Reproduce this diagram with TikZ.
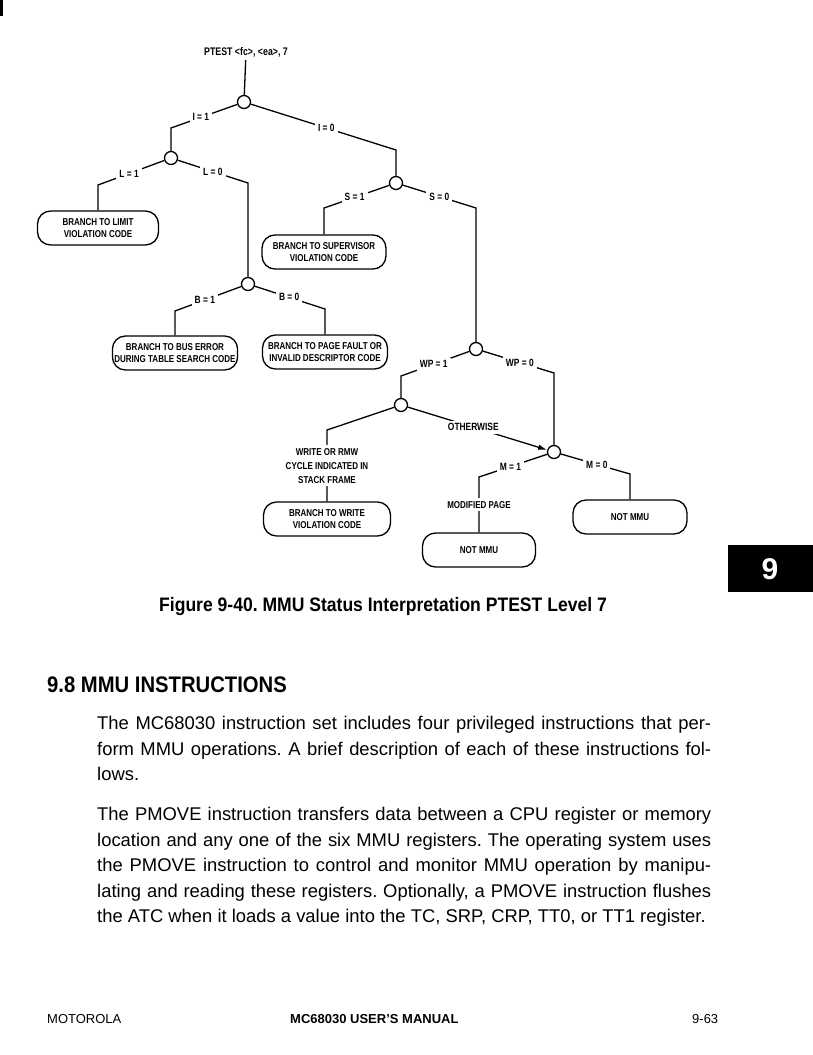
\documentclass[tikz,border=0pt]{standalone}
\usepackage{fontspec}
\setmainfont{Liberation Sans}
\newfontfamily\cnd[FakeStretch=0.8]{Liberation Sans}
\newfontfamily\capf[FakeStretch=0.9]{Liberation Sans}
\usetikzlibrary{arrows.meta}
\frenchspacing
\tikzset{
  dec/.style={circle,draw,line width=1.3pt,minimum size=13pt,inner sep=0pt,fill=white},
  lab/.style={fill=white,inner sep=3pt,font=\cnd\bfseries\fontsize{10.5}{12}\selectfont},
  term/.style={draw,line width=1.3pt,rounded corners=13pt,minimum height=34pt,align=center,inner sep=2pt,font=\cnd\bfseries\fontsize{10}{11.5}\selectfont},
  edge/.style={line width=1.3pt},
  body/.style={anchor=base west,inner sep=0pt,font=\fontsize{18.4}{20}\selectfont},
}
\begin{document}
\begin{tikzpicture}[x=1pt,y=-1pt]
\useasboundingbox (0,0) rectangle (813,1055);
\fill (0,0) rectangle (2.5,16);

% decision points
\node[lab,fill=none,font=\cnd\bfseries\fontsize{11}{12}\selectfont] (ptest) at (246,52) {PTEST \textless fc\textgreater, \textless ea\textgreater, 7};
\node[dec] (root) at (244,102) {};
\node[dec] (cL) at (171,158) {};
\node[dec] (cS) at (396,183) {};
\node[dec] (cB) at (248,284) {};
\node[dec] (cWP) at (476,349) {};
\node[dec] (cW) at (401,405) {};
\node[dec] (cM) at (554,452) {};

% terminals
\node[term,minimum width=121pt] (tLim) at (98,228) {BRANCH TO LIMIT\\VIOLATION CODE};
\node[term,minimum width=124pt] (tSup) at (324,252) {BRANCH TO SUPERVISOR\\VIOLATION CODE};
\node[term,minimum width=124pt] (tBus) at (175,353) {BRANCH TO BUS ERROR\\DURING TABLE SEARCH CODE};
\node[term,minimum width=125pt] (tPF) at (325,352) {BRANCH TO PAGE FAULT OR\\INVALID DESCRIPTOR CODE};
\node[term,minimum width=127pt] (tWr) at (327,519) {BRANCH TO WRITE\\VIOLATION CODE};
\node[term,minimum width=113pt] (tN1) at (479,550) {NOT MMU};
\node[term,minimum width=114pt] (tN2) at (630,517) {NOT MMU};

% corners
\coordinate (kI1) at (171,128);
\coordinate (kI0) at (396,150);
\coordinate (kL1) at (98,185);
\coordinate (kL0) at (248,183);
\coordinate (kS1) at (324,208);
\coordinate (kS0) at (476,208);
\coordinate (kB1) at (175,311);
\coordinate (kB0) at (325,309);
\coordinate (kWP1) at (401,376);
\coordinate (kWP0) at (554,373);
\coordinate (kW) at (327,430);
\coordinate (kM1) at (479,477);
\coordinate (kM0) at (630,474);

% connectors
\draw[edge] (ptest) -- (root);
\draw[edge] (root) -- node[lab,pos=0.55]{I = 1} (kI1) -- (cL);
\draw[edge] (root) -- node[lab,pos=0.52]{I = 0} (kI0) -- (cS);
\draw[edge] (cL) -- node[lab,pos=0.53]{L = 1} (kL1) -- (tLim);
\draw[edge] (cL) -- node[lab,pos=0.5]{L = 0} (kL0) -- (cB);
\draw[edge] (cS) -- node[lab,pos=0.53]{S = 1} (kS1) -- (tSup);
\draw[edge] (cS) -- node[lab,pos=0.5]{S = 0} (kS0) -- (cWP);
\draw[edge] (cB) -- node[lab,pos=0.55]{B = 1} (kB1) -- (tBus);
\draw[edge] (cB) -- node[lab,pos=0.49]{B = 0} (kB0) -- (tPF);
\draw[edge] (cWP) -- node[lab,pos=0.52]{WP = 1} (kWP1) -- (cW);
\draw[edge] (cWP) -- node[lab,pos=0.52]{WP = 0} (kWP0) -- (cM);
\draw[edge] (cW) -- (kW) -- node[lab,align=center,pos=0.5,font=\cnd\bfseries\fontsize{10}{14}\selectfont]{WRITE OR RMW\\CYCLE INDICATED IN\\STACK FRAME} (tWr);
\draw[edge,-{Latex[length=9pt,width=5.5pt]}] (cW) -- node[lab,pos=0.47]{OTHERWISE} (cM);
\draw[edge] (cM) -- node[lab,pos=0.54]{M = 1} (kM1) -- node[lab,pos=0.5,font=\cnd\bfseries\fontsize{10}{12}\selectfont]{MODIFIED PAGE} (tN1);
\draw[edge] (cM) -- node[lab,pos=0.52]{M = 0} (kM0) -- (tN2);

% tab
\fill (728,545) rectangle (813,592);
\node[white,font=\bfseries\fontsize{30}{30}\selectfont] at (770,569) {9};

% caption
\node[font=\capf\bfseries\fontsize{19.5}{22}\selectfont,anchor=base] at (383,611) {Figure 9-40. MMU Status Interpretation PTEST Level 7};

% section
\node[anchor=base west,inner sep=0pt,font=\capf\bfseries\fontsize{22.5}{24}\selectfont] at (47,692) {9.8 MMU INSTRUCTIONS};
\node[body] at (97,729) {\makebox[614pt][s]{The MC68030 instruction set includes four privileged instructions that per-}};
\node[body] at (97,755) {\makebox[614pt][s]{form MMU operations. A brief description of each of these instructions fol-}};
\node[body] at (97,780) {lows.};
\node[body] at (97,820) {\makebox[614pt][s]{The PMOVE instruction transfers data between a CPU register or memory}};
\node[body] at (97,846) {\makebox[614pt][s]{location and any one of the six MMU registers. The operating system uses}};
\node[body] at (97,871) {\makebox[614pt][s]{the PMOVE instruction to control and monitor MMU operation by manipu-}};
\node[body] at (97,897) {\makebox[614pt][s]{lating and reading these registers. Optionally, a PMOVE instruction flushes}};
\node[body] at (97,922) {the ATC when it loads a value into the TC, SRP, CRP, TT0, or TT1 register.};

% footer
\node[anchor=base west,inner sep=0pt,font=\fontsize{13}{15}\selectfont] at (47,1023) {MOTOROLA};
\node[anchor=base west,inner sep=0pt,font=\bfseries\fontsize{13}{15}\selectfont] at (290,1023) {MC68030 USER'S MANUAL};
\node[anchor=base west,inner sep=0pt,font=\fontsize{13}{15}\selectfont] at (692,1023) {9-63};
\end{tikzpicture}
\end{document}
